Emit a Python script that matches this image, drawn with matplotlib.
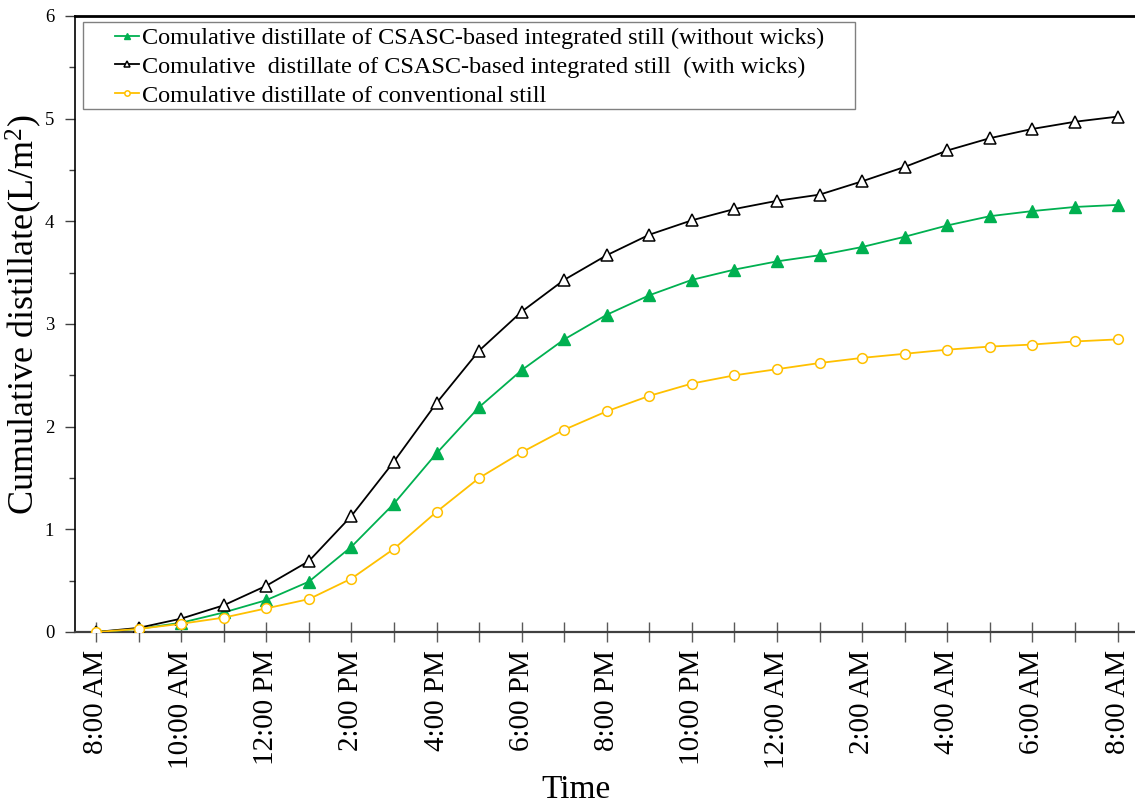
import matplotlib
matplotlib.use("Agg")
import matplotlib.pyplot as plt
from matplotlib.patches import Rectangle
import numpy as np

# ---- data ----
hour_labels = ["8:00 AM", "", "10:00 AM", "", "12:00 PM", "", "2:00 PM", "", "4:00 PM", "",
               "6:00 PM", "", "8:00 PM", "", "10:00 PM", "", "12:00 AM", "", "2:00 AM", "",
               "4:00 AM", "", "6:00 AM", "", "8:00 AM"]
without_wicks = [0.00, 0.03, 0.09, 0.19, 0.31, 0.49, 0.83, 1.25, 1.74, 2.19, 2.55, 2.85, 3.09,
                 3.28, 3.43, 3.53, 3.61, 3.67, 3.75, 3.85, 3.96, 4.05, 4.10, 4.14, 4.16]
with_wicks = [0.00, 0.04, 0.13, 0.26, 0.45, 0.69, 1.13, 1.66, 2.23, 2.74, 3.12, 3.43, 3.67,
              3.87, 4.01, 4.12, 4.20, 4.26, 4.39, 4.53, 4.69, 4.81, 4.90, 4.97, 5.02]
conventional = [0.00, 0.03, 0.08, 0.14, 0.23, 0.32, 0.52, 0.81, 1.17, 1.50, 1.75, 1.97, 2.15,
                2.30, 2.42, 2.50, 2.56, 2.62, 2.67, 2.71, 2.75, 2.78, 2.80, 2.83, 2.85]
legend_labels = ["Comulative distillate of CSASC-based integrated still (without wicks)",
                 "Comulative  distillate of CSASC-based integrated still  (with wicks)",
                 "Comulative distillate of conventional still"]

plt.rcParams['font.family'] = ['Liberation Serif', 'DejaVu Serif']
plt.rcParams['mathtext.fontset'] = 'custom'
plt.rcParams['mathtext.rm'] = 'Liberation Serif'
plt.rcParams['mathtext.it'] = 'Liberation Serif:italic'
plt.rcParams['mathtext.bf'] = 'Liberation Serif:bold'

W, H = 1135, 806
fig = plt.figure(figsize=(W / 100, H / 100), dpi=100)
ax = fig.add_axes([75 / W, 1 - 632 / H, (W - 75) / W, (632 - 16) / H])

x = np.arange(len(hour_labels))
green, yellow = "#00B050", "#FFC000"
l1, = ax.plot(x, without_wicks, color=green, lw=1.3, marker='^', ms=8,
              mfc=green, mec=green, label=legend_labels[0], zorder=3)
l2, = ax.plot(x, with_wicks, color='black', lw=1.3, marker='^', ms=8,
              mfc='white', mec='black', mew=1.1, label=legend_labels[1], zorder=4)
l3, = ax.plot(x, conventional, color=yellow, lw=1.3, marker='o', ms=7,
              mfc='white', mec=yellow, mew=1.1, label=legend_labels[2], zorder=5)

ax.set_xlim(-0.493, 24.41)
ax.set_ylim(0, 6)
ax.set_xticks(x)
ax.set_xticklabels(hour_labels, rotation=90, fontsize=21)
ax.set_yticks(range(7))
ax.set_yticks(np.arange(0.5, 6, 1.0), minor=True)
ax.tick_params(axis='y', which='major', direction='out', length=7, width=1,
               color='#404040', labelsize=13.5, pad=8)
ax.tick_params(axis='y', which='minor', direction='out', length=4, width=1, color='#404040')
ax.tick_params(axis='x', which='major', direction='inout', length=14, width=1,
               color='#595959', pad=6)

ax.spines['right'].set_visible(False)
ax.spines['top'].set_linewidth(2.0)
ax.spines['top'].set_color('black')
ax.spines['left'].set_linewidth(1.2)
ax.spines['left'].set_color('black')
ax.spines['bottom'].set_linewidth(1.6)
ax.spines['bottom'].set_color('#404040')

ax.set_ylabel("Cumulative distillate(L/m$^{2}$)", fontsize=26)
ax.yaxis.label.set_va('center')
ax.yaxis.set_label_coords((24 - 75) / (W - 75), (632 - 315) / 616)
ax.set_xlabel("Time", fontsize=24)
ax.xaxis.set_label_coords((576 - 75) / (W - 75), (632 - 774) / 616)
ax.xaxis.label.set_va('top')

# legend frame
frame = Rectangle((83 / W, 1 - 109 / H), (855 - 83) / W, (109 - 22) / H,
                  transform=fig.transFigure, fill=True, facecolor='white',
                  edgecolor='#808080', lw=1.0, zorder=6, clip_on=False)
ax.add_patch(frame)
leg = ax.legend(handles=[l1, l2, l3], loc='upper left', frameon=False,
                bbox_to_anchor=(115 / W, 1 - 27 / H), bbox_transform=fig.transFigure,
                borderaxespad=0, borderpad=0, fontsize=17.5, handlelength=1.0,
                handletextpad=0.12, labelspacing=0.28, markerscale=0.55)
leg.set_zorder(7)

fig.savefig("out.png", dpi=100)
